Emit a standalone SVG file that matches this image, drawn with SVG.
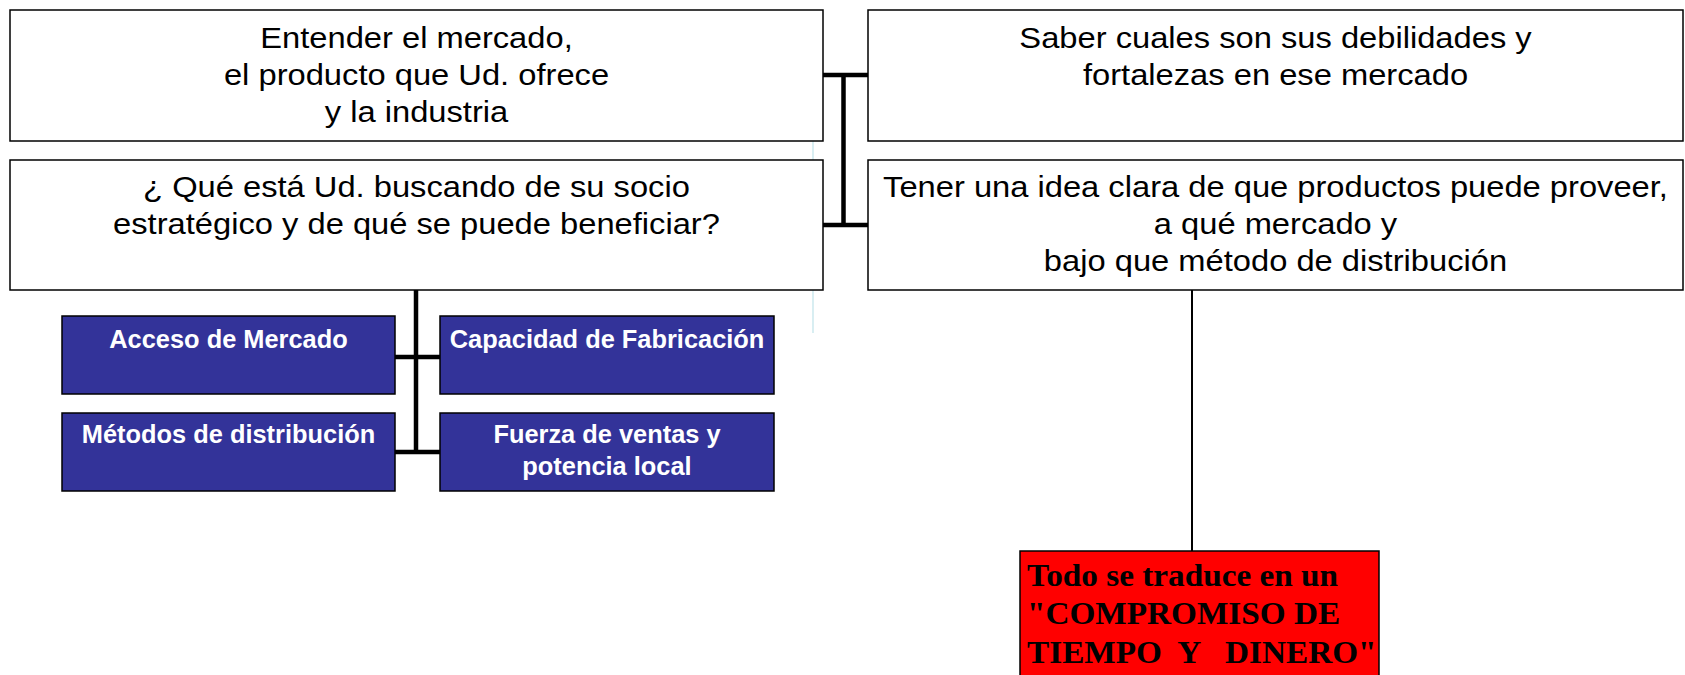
<svg xmlns="http://www.w3.org/2000/svg" width="1685" height="675" viewBox="0 0 1685 675">
<style>
.box{fill:#fff;stroke:#000;stroke-width:1.5}
.blue{fill:#333399;stroke:#000;stroke-width:1.5}
.red{fill:#ff0000;stroke:#000;stroke-width:1.5}
.big{font-family:"Liberation Sans",Arial,sans-serif;font-size:30px;fill:#000;text-anchor:middle}
.bt{font-family:"Liberation Sans",Arial,sans-serif;font-size:25.4px;font-weight:bold;fill:#fff;text-anchor:middle}
.rt{font-family:"Liberation Serif","Times New Roman",serif;font-size:32px;font-weight:bold;fill:#000;white-space:pre}
.thick{stroke:#000;stroke-width:4.5;fill:none}
.thin{stroke:#000;stroke-width:2;fill:none}
</style>
<rect width="1685" height="675" fill="#fff"/>
<line x1="813" y1="141" x2="813" y2="333" stroke="#bfe3ea" stroke-width="1.2"/>
<g id="connectors">
<path class="thick" d="M823 75H868M823 225H868M843.5 73V227"/>
<path class="thick" d="M416 290V454M395 357H440M395 452H440"/>
<path class="thin" d="M1192 290V551"/>
</g>
<g id="n1">
<rect class="box" x="10" y="10" width="813" height="131"/>
<g transform="translate(416.5 0) scale(1.09 1)">
<text class="big" x="0" y="48">Entender el mercado,</text>
<text class="big" x="0" y="85">el producto que Ud. ofrece</text>
<text class="big" x="0" y="122">y la industria</text>
</g>
</g>
<g id="n2">
<rect class="box" x="10" y="160" width="813" height="130"/>
<g transform="translate(416.5 0) scale(1.09 1)">
<text class="big" x="0" y="197">¿ Qué está Ud. buscando de su socio</text>
<text class="big" x="0" y="234">estratégico y de qué se puede beneficiar?</text>
</g>
</g>
<g id="n3">
<rect class="box" x="868" y="10" width="815" height="131"/>
<g transform="translate(1275.5 0) scale(1.09 1)">
<text class="big" x="0" y="48">Saber cuales son sus debilidades y</text>
<text class="big" x="0" y="85">fortalezas en ese mercado</text>
</g>
</g>
<g id="n4">
<rect class="box" x="868" y="160" width="815" height="130"/>
<g transform="translate(1275.5 0) scale(1.09 1)">
<text class="big" x="0" y="197">Tener una idea clara de que productos puede proveer,</text>
<text class="big" x="0" y="234">a qué mercado y</text>
<text class="big" x="0" y="271">bajo que método de distribución</text>
</g>
</g>
<g id="n5">
<rect class="blue" x="62" y="316" width="333" height="78"/>
<text class="bt" x="228.5" y="348">Acceso de Mercado</text>
</g>
<g id="n6">
<rect class="blue" x="440" y="316" width="334" height="78"/>
<text class="bt" x="607" y="348">Capacidad de Fabricación</text>
</g>
<g id="n7">
<rect class="blue" x="62" y="413" width="333" height="78"/>
<text class="bt" x="228.5" y="443">Métodos de distribución</text>
</g>
<g id="n8">
<rect class="blue" x="440" y="413" width="334" height="78"/>
<text class="bt" x="607" y="443">Fuerza de ventas y</text>
<text class="bt" x="607" y="475">potencia local</text>
</g>
<g id="n9">
<rect class="red" x="1020" y="551" width="359" height="140"/>
<g transform="translate(1027 0) scale(1.04 1)">
<text class="rt" x="0" y="586">Todo se traduce en un</text>
<text class="rt" x="0" y="624.5">"COMPROMISO DE</text>
<text class="rt" x="0" y="663">TIEMPO  Y   DINERO"</text>
</g>
</g>
</svg>
